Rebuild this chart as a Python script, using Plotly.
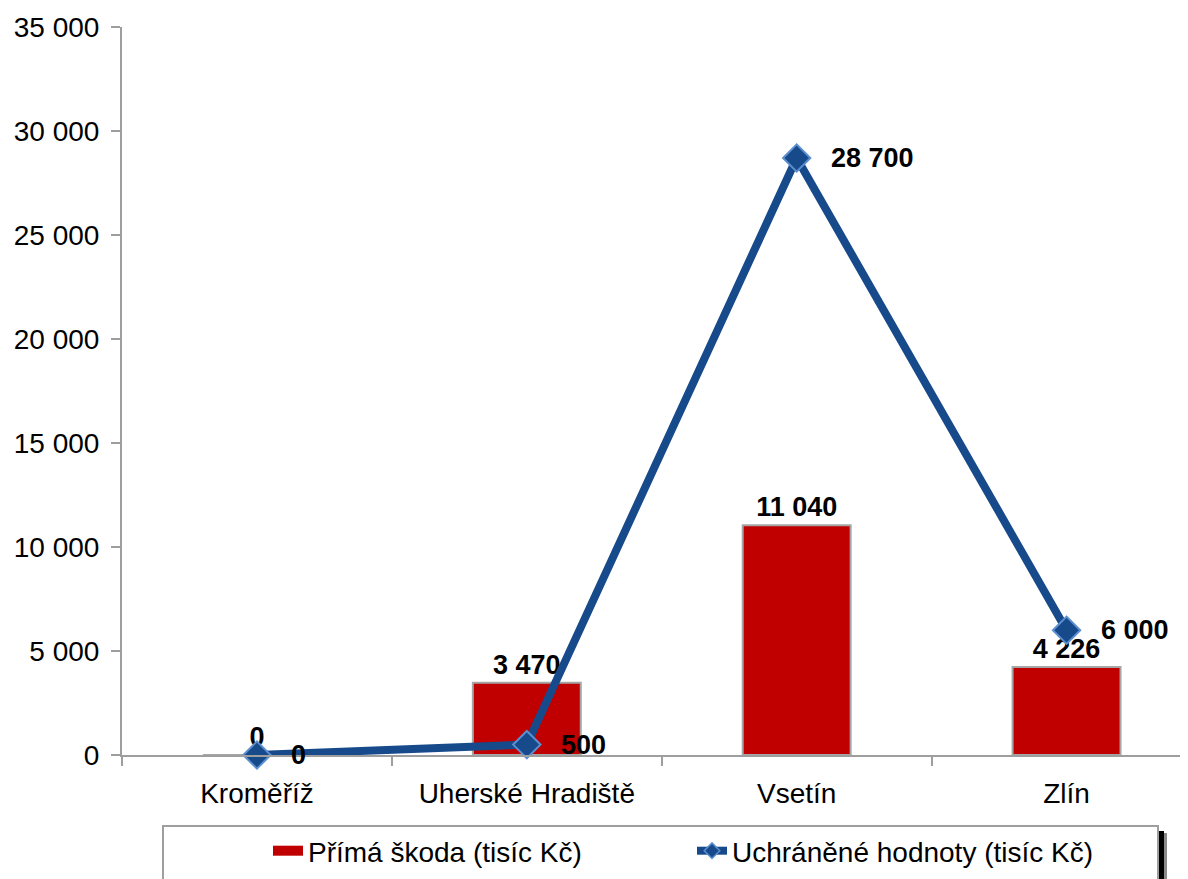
import plotly.graph_objects as go

# okresy a hodnoty (tisic Kc)
okresy = ["Kroměříž", "Uherské Hradiště", "Vsetín", "Zlín"]
prima_skoda = [0, 3470, 11040, 4226]
uchranene = [0, 500, 28700, 6000]
y_ticks = [0, 5000, 10000, 15000, 20000, 25000, 30000, 35000]

nazev_skoda = "Přímá škoda (tisíc Kč)"
nazev_uchr = "Uchráněné hodnoty (tisíc Kč)"

def fmt(v):
    return "{:,}".format(v).replace(",", " ")

# stranka ma 8px okraj body -> graf o 8px mensi
W, H = 1180, 871
L, T = 114, 19
B = H - 747
pw = W - L
ph = 747 - T

# pozice v obrazovce -> paper souradnice
def px(x):
    return (x - 8 - L) / pw
def py(y):
    return (747 - (y - 8)) / ph

modra = "#174A8A"
cervena = "#C00000"
sediva = "#9E9E9E"
lbl_font = dict(size=27, color="black", family="Liberation Sans")

fig = go.Figure()
fig.add_trace(go.Bar(
    x=okresy, y=prima_skoda, name=nazev_skoda, showlegend=False,
    width=0.4,
    marker=dict(color=cervena, line=dict(color="#A6A6A6", width=2)),
    text=[fmt(v) for v in prima_skoda], textposition="outside",
    textfont=lbl_font, texttemplate="<b>%{text}</b>", cliponaxis=False,
))
fig.add_trace(go.Scatter(
    x=okresy, y=uchranene, name=nazev_uchr, showlegend=False,
    mode="lines+markers",
    line=dict(color=modra, width=8),
    marker=dict(symbol="diamond", size=21, color=modra,
                line=dict(color="#5B8FCF", width=2)),
    cliponaxis=False,
))

# polozky legendy
fig.add_trace(go.Scatter(x=[None], y=[None], mode="lines", name=nazev_skoda,
                         line=dict(color=cervena, width=13)))
fig.add_trace(go.Scatter(x=[None], y=[None], mode="lines+markers", name=nazev_uchr,
                         line=dict(color=modra, width=8),
                         marker=dict(symbol="diamond", size=12, color=modra,
                                     line=dict(color="#5B8FCF", width=1.5))))

# popisky bodu cary vpravo od znacky
for k, v in zip(okresy, uchranene):
    fig.add_annotation(x=k, y=v, text="<b>" + fmt(v) + "</b>", showarrow=False,
                       xanchor="left", yanchor="middle", xshift=33, borderpad=0,
                       font=lbl_font)

# ramecek a stin legendy
lx0, lx1, ly0, ly1 = 163, 1158, 826, 890
fig.add_shape(type="rect", xref="paper", yref="paper",
              x0=px(lx1 + 6), x1=px(lx1 + 9), y0=py(ly1), y1=py(ly0 + 7),
              fillcolor="#8A8A8A", line=dict(width=0), layer="above")
fig.add_shape(type="rect", xref="paper", yref="paper",
              x0=px(lx1 - 4), x1=px(lx1 + 6), y0=py(ly1), y1=py(ly0 + 5),
              fillcolor="black", line=dict(width=0), layer="above")
fig.add_shape(type="rect", xref="paper", yref="paper",
              x0=px(lx0), x1=px(lx1), y0=py(ly1), y1=py(ly0),
              fillcolor="white", line=dict(color=sediva, width=2), layer="above")

fig.update_layout(
    width=W, height=H,
    margin=dict(l=L, r=0, t=T, b=B, autoexpand=False),
    plot_bgcolor="white", paper_bgcolor="white",
    separators=", ",
    font=dict(family="Liberation Sans", size=28, color="black"),
    showlegend=True,
    legend=dict(orientation="h", x=px(268), xanchor="left", y=py(826), yanchor="top",
                borderwidth=0, bgcolor="rgba(0,0,0,0)",
                font=dict(size=28), entrywidth=379,
                traceorder="normal"),
)
fig.update_xaxes(range=[-0.5, 3.45], showline=True, linecolor=sediva, linewidth=2,
                 ticks="outside", tickson="boundaries", ticklen=9, tickcolor=sediva,
                 tickwidth=2, showgrid=False, tickfont=dict(size=28),
                 ticklabelstandoff=12)
fig.update_yaxes(range=[0, 35000], tickvals=y_ticks, tickformat=",d", showline=True,
                 linecolor=sediva, linewidth=2, ticks="outside", ticklen=9,
                 tickcolor=sediva, tickwidth=2, showgrid=False, zeroline=False,
                 tickfont=dict(size=28), ticklabelstandoff=6)

fig.write_html("out.html")
